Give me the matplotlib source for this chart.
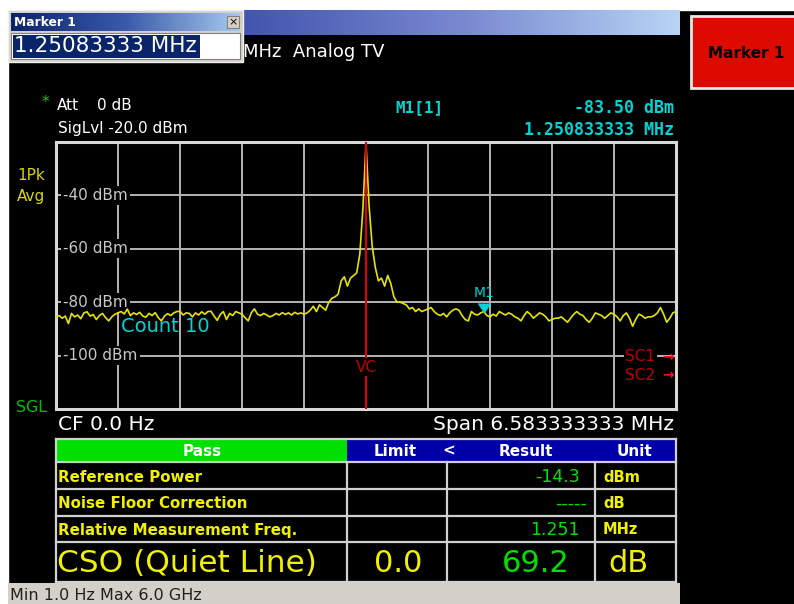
import numpy as np
import matplotlib
matplotlib.use("Agg")
import matplotlib.pyplot as plt
from matplotlib.patches import Rectangle
from matplotlib.colors import LinearSegmentedColormap

# ---------------- data ----------------
center_freq_mhz = 0.0
span_mhz = 6.583333333
ref_level_dbm = -20.0
range_db = 100.0
grid_levels = [-40, -60, -80, -100]
grid_labels = ["-40 dBm", "-60 dBm", "-80 dBm", "-100 dBm"]

trace_dbm = [
    -85.4, -85.0, -86.0, -85.2, -88.0, -84.2, -85.5, -84.8, -86.2, -84.0,
    -83.6, -85.2, -84.6, -86.5, -85.0, -84.2, -85.8, -87.0, -85.5, -84.5,
    -84.0, -83.5, -84.4, -82.6, -85.0, -84.0, -84.6, -83.8, -85.2, -85.6,
    -84.2, -85.0, -83.9, -85.8, -87.0, -85.2, -84.3, -85.0, -84.0, -83.5,
    -83.4, -84.8, -84.0, -84.2, -85.5, -84.0, -84.8, -83.6, -84.5, -83.5,
    -83.4, -85.2, -86.8, -84.6, -83.5, -86.5, -84.2, -85.0, -83.5, -84.0,
    -84.5, -85.8, -87.0, -84.0, -82.5, -84.5, -85.0, -84.2, -84.8, -85.5,
    -85.0, -84.2, -84.8, -83.9, -84.6, -84.0, -84.8, -83.8, -84.4, -84.0,
    -84.5, -84.0, -83.0, -81.5, -83.5, -81.0, -82.0, -83.0, -80.0, -78.5,
    -78.0, -77.0, -72.0, -70.5, -74.0, -71.0, -70.0, -69.0, -62.0, -45.0,
    -20.5,
    -44.0, -59.0, -67.0, -72.0, -71.0, -74.0, -70.0, -73.0, -78.0, -80.0,
    -80.0, -80.5, -81.0, -82.5, -82.0, -83.5, -82.5, -83.5, -83.0,
    -82.5, -82.0, -83.5, -84.5, -85.0, -84.2, -85.5, -84.0, -83.0, -82.5,
    -83.0, -85.0, -86.5, -87.0, -83.5, -84.5, -84.8, -84.0, -83.5, -85.0,
    -85.5, -84.5, -85.2, -83.5, -84.2, -84.8, -84.0, -84.5, -85.5, -86.0,
    -87.0, -85.0, -83.5, -84.5, -86.0, -85.0, -84.0, -84.5, -85.5, -87.0,
    -86.5, -86.0, -86.0, -85.5, -86.5, -87.5, -86.0, -84.5, -83.5, -84.5,
    -85.0, -86.5, -87.5, -86.0, -84.0, -84.5, -85.0, -86.0, -85.0, -84.0,
    -84.5, -85.5, -87.0, -85.0, -84.0, -86.0, -89.0, -86.5, -84.5, -85.0,
    -86.0, -85.5, -85.5, -85.0, -84.0, -82.0, -84.5, -87.5, -86.0, -84.0,
    -83.5,
]

marker_freq_mhz = 1.250833333
marker_level_dbm = -83.50
marker_name = "M1"
marker_title = "M1[1]"
marker_level_text = "-83.50 dBm"
marker_freq_text = "1.250833333 MHz"
dialog_value = "1.25083333 MHz"

table_header = ["Pass", "Limit", "<", "Result", "Unit"]
table_rows = ["Reference Power", "Noise Floor Correction", "Relative Measurement Freq."]
table_results = ["-14.3", "-----", "1.251"]
table_units = ["dBm", "dB", "MHz"]
main_label = "CSO (Quiet Line)"
main_limit = "0.0"
main_result = "69.2"
main_unit = "dB"

# ---------------- layout ----------------
W, H = 794, 604
fig = plt.figure(figsize=(W / 100, H / 100), dpi=100, facecolor="black")


def frect(x0, y0, x1, y1):
    return [x0 / W, 1 - y1 / H, (x1 - x0) / W, (y1 - y0) / H]


bg = fig.add_axes([0, 0, 1, 1], zorder=0)
bg.set_xlim(0, W)
bg.set_ylim(H, 0)
bg.axis("off")
bg.set_facecolor("black")

CYAN = "#00d4d4"
YEL = "#f0f000"
GRN = "#00e000"
GREY = "#c8c8c8"
FONT = "DejaVu Sans"
MONO = "DejaVu Sans Mono"

# white frame strips
bg.add_patch(Rectangle((0, 0), W, 10, color="white", zorder=1))
bg.add_patch(Rectangle((0, 0), 8, H, color="white", zorder=1))

# blue title bar gradient
grad = np.linspace(0, 1, 256).reshape(1, -1)
cm_bar = LinearSegmentedColormap.from_list("bar", ["#4254ae", "#7888d0", "#b8d4f4"])
bg.imshow(grad, cmap=cm_bar, extent=(243, 680, 35, 10), aspect="auto", zorder=1)
bg.text(243, 52, "MHz  Analog TV", color="white", fontsize=13, family=FONT,
        va="center", ha="left", zorder=3)

# marker dialog
bg.add_patch(Rectangle((8, 10), 235, 52, facecolor="#d4d0c8", edgecolor="#f0f0f0", lw=1, zorder=4))
cm_title = LinearSegmentedColormap.from_list("title", ["#0a246a", "#3a5aa8", "#a6caf0"])
bg.imshow(grad, cmap=cm_title, extent=(11, 240, 31, 13), aspect="auto", zorder=5)
bg.text(14, 23, "Marker 1", color="white", fontsize=8.8, fontweight="bold", family=FONT,
        va="center", ha="left", zorder=6)
bg.add_patch(Rectangle((227, 16), 12, 12, facecolor="#d4d0c8", edgecolor="#808080", lw=0.8, zorder=6))
bg.text(233, 22.5, "×", color="black", fontsize=8, family=FONT, va="center", ha="center", zorder=7)
bg.add_patch(Rectangle((11, 33), 229, 26, facecolor="white", edgecolor="#808080", lw=0.8, zorder=5))
bg.add_patch(Rectangle((13, 35), 187, 23, facecolor="#0a246a", edgecolor="none", zorder=6))
bg.text(14, 46.5, dialog_value, color="white", fontsize=15.5, family=FONT,
        va="center", ha="left", zorder=7)

# right softkey
bg.add_patch(Rectangle((691, 16), 110, 72, facecolor="#dd0a00", edgecolor="#e8e8e8", lw=2, zorder=2))
bg.text(746, 53, "Marker 1", color="black", fontsize=11, fontweight="bold", family=FONT,
        va="center", ha="center", zorder=3)

# status info
bg.text(42, 103, "*", color="#00d000", fontsize=11, family=FONT, va="center", ha="left", zorder=3)
bg.text(57, 105, "Att", color="white", fontsize=11, family=FONT, va="center", ha="left", zorder=3)
bg.text(97, 105, "0 dB", color="white", fontsize=11, family=FONT, va="center", ha="left", zorder=3)
bg.text(58, 129, "SigLvl -20.0 dBm", color="white", fontsize=11, family=FONT, va="center", ha="left", zorder=3)
bg.text(395, 108, marker_title, color=CYAN, fontsize=11.5, fontweight="bold", family=MONO,
        va="center", ha="left", zorder=3)
bg.text(674, 108, marker_level_text, color=CYAN, fontsize=12, fontweight="bold", family=MONO,
        va="center", ha="right", zorder=3)
bg.text(674, 130, marker_freq_text, color=CYAN, fontsize=12, fontweight="bold", family=MONO,
        va="center", ha="right", zorder=3)
bg.text(17, 176, "1Pk", color="#d8d800", fontsize=11, family=FONT, va="center", ha="left", zorder=3)
bg.text(17, 197, "Avg", color="#d8d800", fontsize=11, family=FONT, va="center", ha="left", zorder=3)
bg.text(16, 407, "SGL", color="#00c000", fontsize=11.4, family=FONT, va="center", ha="left", zorder=3)
bg.text(58, 425, f"CF {center_freq_mhz:.1f} Hz", color="white", fontsize=14.5, family=FONT,
        va="center", ha="left", zorder=3)
bg.text(674, 425, f"Span {span_mhz:.9f} MHz", color="white", fontsize=14.5, family=FONT,
        va="center", ha="right", zorder=3)

# ---------------- spectrum plot ----------------
ax = fig.add_axes(frect(56, 142, 676, 409), zorder=2)
ax.set_facecolor("black")
f_lo = center_freq_mhz - span_mhz / 2
f_hi = center_freq_mhz + span_mhz / 2
ax.set_xlim(f_lo, f_hi)
ax.set_ylim(ref_level_dbm - range_db, ref_level_dbm)
ax.set_xticks(np.linspace(f_lo, f_hi, 11))
ax.set_yticks(np.arange(ref_level_dbm - range_db, ref_level_dbm + 1, 20))
ax.tick_params(length=0, labelbottom=False, labelleft=False)
ax.grid(True, color="#b4b4b4", lw=1.4, zorder=1)
ax.set_axisbelow(True)
for sp in ax.spines.values():
    sp.set_color("#d8d8d8")
    sp.set_linewidth(2.2)

for lvl, lab in zip(grid_levels, grid_labels):
    ax.text(7 / 620, lvl, lab, transform=ax.get_yaxis_transform(), color=GREY,
            fontsize=11, family=FONT, va="center", ha="left", zorder=2,
            bbox=dict(facecolor="black", edgecolor="none", pad=1.5))

freqs = np.linspace(f_lo, f_hi, len(trace_dbm))
ax.plot(freqs, trace_dbm, color="#e4e400", lw=1.2, zorder=4)

# VC line
ax.axvline(center_freq_mhz, color="#e00000", lw=1.5, zorder=5)
ax.text(center_freq_mhz, -104.3, "VC", color="#c80000", fontsize=11, family=FONT,
        va="center", ha="center", zorder=6,
        bbox=dict(facecolor="black", edgecolor="none", pad=1.0))

# SC labels
ax.text(0.918, -100.5, "SC1", transform=ax.get_yaxis_transform(), color="#c00000",
        fontsize=11, family=FONT, va="center", ha="left", zorder=6,
        bbox=dict(facecolor="black", edgecolor="none", pad=1.0))
ax.text(0.918, -107.3, "SC2", transform=ax.get_yaxis_transform(), color="#c00000",
        fontsize=11, family=FONT, va="center", ha="left", zorder=6)
for yv in (-100.5, -107.3):
    ax.text(0.997, yv, "→", transform=ax.get_yaxis_transform(), color="#ff1010",
            fontsize=10, family=FONT, fontweight="bold", va="center", ha="right", zorder=6)

# marker
ax.plot([marker_freq_mhz], [marker_level_dbm], marker=7, ms=9, color=CYAN, zorder=7,
        linestyle="none")
ax.annotate(marker_name, (marker_freq_mhz, marker_level_dbm), xytext=(0, 19),
            textcoords="offset pixels", color=CYAN, fontsize=10, family=FONT,
            ha="center", va="center", zorder=7)
ax.text((121 - 56) / 620, (409 - 327) / 267, "Count 10", transform=ax.transAxes,
        color=CYAN, fontsize=14, family=FONT, va="center", ha="left", zorder=6)

# ---------------- result table ----------------
cols = [56, 347, 447, 595, 676]
row_y = [463, 489, 516, 542]
big_y = (542, 582)
LC = "#d0d0d0"
bg.add_patch(Rectangle((56, 439), 291, 23, facecolor="#00e000", edgecolor="none", zorder=2))
bg.add_patch(Rectangle((347, 439), 329, 23, facecolor="#0000a8", edgecolor="none", zorder=2))
hdr_x = [202, 395, 449, 526, 635]
for hx, ht in zip(hdr_x, table_header):
    bg.text(hx, 451, ht, color="white", fontsize=11, fontweight="bold", family=FONT,
            va="center", ha="center", zorder=3)

# grid lines
for yv in [439, 462] + row_y[1:] + [big_y[1]]:
    bg.plot([56, 676], [yv, yv], color=LC, lw=1.6, zorder=3)
bg.plot([56, 56], [439, 582], color=LC, lw=1.6, zorder=3)
bg.plot([676, 676], [439, 582], color=LC, lw=1.6, zorder=3)
for cx in cols[1:4]:
    bg.plot([cx, cx], [462, 582], color=LC, lw=1.6, zorder=3)

for i, (lab, res, unit) in enumerate(zip(table_rows, table_results, table_units)):
    yc = (row_y[i] + row_y[i + 1]) / 2 + 1
    bg.text(58, yc, lab, color=YEL, fontsize=10.8, fontweight="bold", family=FONT,
            va="center", ha="left", zorder=4)
    bg.text(580 if res != "-----" else 587, yc, res, color=GRN, fontsize=12.5, family=FONT,
            va="center", ha="right", zorder=4)
    bg.text(603, yc, unit, color=YEL, fontsize=10.5, fontweight="bold", family=FONT,
            va="center", ha="left", zorder=4)

yb = (big_y[0] + big_y[1]) / 2 + 1
bg.text(57, yb, main_label, color=YEL, fontsize=22.5, family=FONT, va="center", ha="left", zorder=4)
bg.text(398, yb, main_limit, color=YEL, fontsize=22, family=FONT, va="center", ha="center", zorder=4)
bg.text(536, yb, main_result, color=GRN, fontsize=22, family=FONT, va="center", ha="center", zorder=4)
bg.text(628, yb, main_unit, color=YEL, fontsize=22, family=FONT, va="center", ha="center", zorder=4)

# status bar
bg.add_patch(Rectangle((8, 583), 672, 21, facecolor="#d4d0c8", edgecolor="none", zorder=2))
bg.text(10, 596, "Min 1.0 Hz Max 6.0 GHz", color="#202020", fontsize=11.5, family=FONT,
        va="center", ha="left", zorder=3)

fig.savefig("out.png", dpi=100, facecolor="black")
